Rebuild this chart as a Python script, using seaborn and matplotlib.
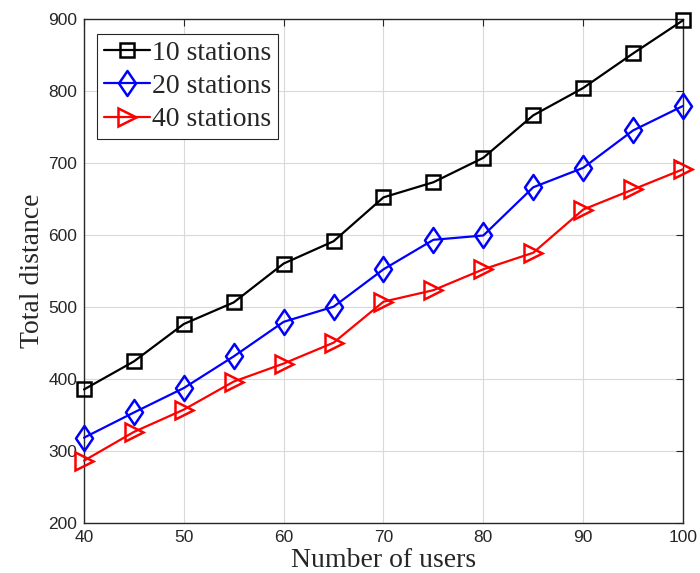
import matplotlib
matplotlib.use("Agg")
import matplotlib.pyplot as plt
from matplotlib.path import Path
import seaborn as sns
import pandas as pd

users = [40, 45, 50, 55, 60, 65, 70, 75, 80, 85, 90, 95, 100]
st10 = [385, 424, 476, 506, 560, 591, 652, 673, 707, 766, 804, 852, 898]
st20 = [318, 353, 387, 431, 479, 500, 552, 593, 599, 666, 693, 745, 779]
st40 = [286, 326, 357, 396, 421, 450, 507, 523, 552, 575, 635, 663, 691]
labels = ["10 stations", "20 stations", "40 stations"]

df = pd.concat([
    pd.DataFrame({"users": users, "dist": v, "series": lab})
    for v, lab in zip([st10, st20, st40], labels)
])

sns.set_theme(style="white")
plt.rcParams["font.family"] = ["Liberation Sans", "DejaVu Sans"]

fig = plt.figure(figsize=(7.0, 5.73), dpi=100)
ax = fig.add_axes([0.12, 0.088, 0.8557, 0.879])

diamond = Path([(0, 1), (0.68, 0), (0, -1), (-0.68, 0), (0, 1)],
               [Path.MOVETO, Path.LINETO, Path.LINETO, Path.LINETO, Path.CLOSEPOLY])
palette = {labels[0]: "black", labels[1]: "#0000ff", labels[2]: "#ff0000"}
markers = {labels[0]: "s", labels[1]: diamond, labels[2]: ">"}
sns.lineplot(data=df, x="users", y="dist", hue="series", style="series",
             palette=palette, markers=markers, dashes=False, ax=ax,
             linewidth=1.6, markersize=10, markerfacecolor="none",
             markeredgewidth=1.8, legend=False)
sizes = [10, 18, 13.5]
for line, lab, ms in zip(ax.get_lines(), labels, sizes):
    line.set_markeredgecolor(palette[lab])
    line.set_markerfacecolor("none")
    line.set_markersize(ms)
    line.set_clip_on(False)
    line.set_zorder(3)

ax.set_xlim(40, 100)
ax.set_ylim(200, 900)
ax.set_xticks(range(40, 101, 10))
ax.set_yticks(range(200, 901, 100))
ax.grid(True, color="#d9d9d9", linewidth=0.8)
ax.set_axisbelow(True)
for s in ax.spines.values():
    s.set_color("#262626")
    s.set_linewidth(1.0)
    s.set_visible(True)
    s.set_zorder(2.5)
ax.tick_params(direction="in", top=True, right=True, length=5, width=0.8,
               colors="#262626", labelsize=12.5, pad=5)

ax.set_xlabel("Number of users", family=["Liberation Serif"], fontsize=20,
              color="#262626", labelpad=2.5)
ax.set_ylabel("Total distance", family=["Liberation Serif"], fontsize=20,
              color="#262626", labelpad=2)

leg = ax.legend(handles=ax.get_lines()[:3], labels=labels, loc="upper left",
                bbox_to_anchor=(0.012, 0.982), frameon=True, fancybox=False,
                edgecolor="#262626", framealpha=1,
                prop={"family": "Liberation Serif", "size": 20},
                handlelength=1.65, handletextpad=0.1, labelspacing=0.28,
                borderpad=0.25, borderaxespad=0.2)
leg.get_frame().set_linewidth(0.8)

fig.savefig("out.png", dpi=100)
